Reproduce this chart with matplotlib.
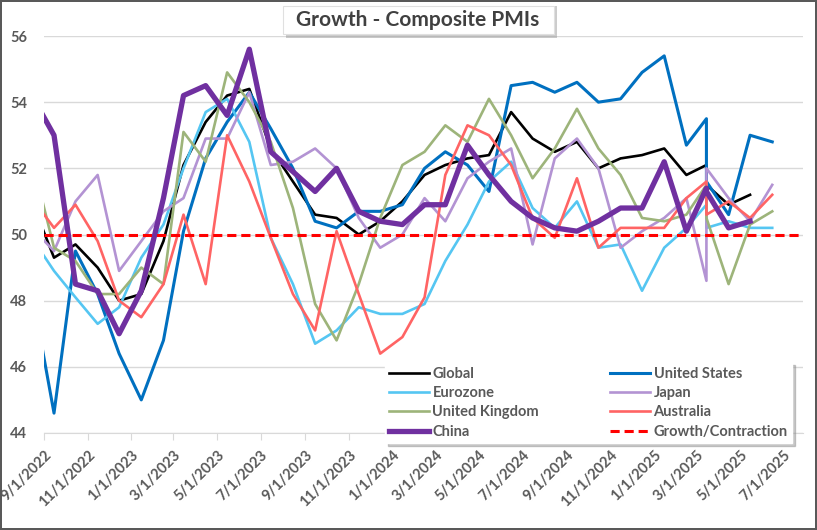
import matplotlib
matplotlib.use('Agg')
import matplotlib.pyplot as plt
from matplotlib.patches import Rectangle
import numpy as np
import pandas as pd

# monthly points (mid-month); the March 2025 row appears twice in the source sheet
dates = pd.to_datetime([
    '2022-08-15', '2022-09-15', '2022-10-15', '2022-11-15', '2022-12-15',
    '2023-01-15', '2023-02-15', '2023-03-15', '2023-04-15', '2023-05-15',
    '2023-06-15', '2023-07-15', '2023-08-15', '2023-09-15', '2023-10-15',
    '2023-11-15', '2023-12-15', '2024-01-15', '2024-02-15', '2024-03-15',
    '2024-04-15', '2024-05-15', '2024-06-15', '2024-07-15', '2024-08-15',
    '2024-09-15', '2024-10-15', '2024-11-15', '2024-12-15', '2025-01-15',
    '2025-02-15', '2025-03-15', '2025-03-15', '2025-04-15', '2025-05-15',
    '2025-06-15',
])

nan = np.nan
global_pmi = [51.0, 49.3, 49.7, 49.0, 48.0, 48.2, 49.8, 52.1, 53.4, 54.2, 54.4, 52.6,
              51.6, 50.6, 50.5, 50.0, 50.4, 51.0, 51.8, 52.1, 52.3, 52.4, 53.7, 52.9,
              52.5, 52.8, 52.0, 52.3, 52.4, 52.6, 51.8, 52.1, 51.5, 50.9, 51.2, nan]
us_pmi = [48.3, 44.6, 49.5, 48.2, 46.4, 45.0, 46.8, 50.1, 52.3, 53.4, 54.3, 53.2,
          52.0, 50.4, 50.2, 50.7, 50.7, 50.9, 52.0, 52.5, 52.1, 51.3, 54.5, 54.6,
          54.3, 54.6, 54.0, 54.1, 54.9, 55.4, 52.7, 53.5, 51.6, 50.6, 53.0, 52.8]
ez_pmi = [49.9, 48.9, 48.1, 47.3, 47.8, 49.3, 50.3, 52.0, 53.7, 54.1, 52.8, 49.9,
          48.5, 46.7, 47.1, 47.8, 47.6, 47.6, 47.9, 49.2, 50.3, 51.6, 52.2, 50.8,
          50.2, 51.0, 49.6, 49.7, 48.3, 49.6, 50.2, 50.9, 50.2, 50.4, 50.2, 50.2]
jp_pmi = [50.2, 49.5, 51.0, 51.8, 48.9, 49.8, 50.7, 51.1, 52.9, 52.9, 54.3, 52.1,
          52.2, 52.6, 52.0, 50.5, 49.6, 50.0, 51.1, 50.4, 51.7, 52.2, 52.6, 49.7,
          52.3, 52.9, 52.0, 49.6, 50.1, 50.5, 51.1, 48.6, 52.0, 51.1, 50.4, 51.5]
uk_pmi = [52.3, 49.6, 49.2, 48.2, 48.2, 49.0, 48.5, 53.1, 52.2, 54.9, 54.0, 52.8,
          50.8, 47.9, 46.8, 48.5, 50.5, 52.1, 52.5, 53.3, 52.8, 54.1, 53.0, 51.7,
          52.6, 53.8, 52.6, 51.8, 50.5, 50.4, 50.6, 51.5, 50.5, 48.5, 50.3, 50.7]
au_pmi = [51.1, 50.2, 50.9, 49.8, 48.0, 47.5, 48.5, 50.6, 48.5, 53.0, 51.6, 49.9,
          48.2, 47.1, 50.1, 48.2, 46.4, 46.9, 48.1, 51.8, 53.3, 53.0, 52.1, 50.5,
          49.9, 51.7, 49.6, 50.2, 50.2, 50.2, 51.1, 51.6, 50.6, 51.0, 50.5, 51.2]
cn_pmi = [54.2, 53.0, 48.5, 48.3, 47.0, 48.3, 51.1, 54.2, 54.5, 53.6, 55.6, 52.5,
          51.9, 51.3, 52.0, 50.7, 50.4, 50.3, 50.9, 50.9, 52.7, 51.8, 51.0, 50.5,
          50.2, 50.1, 50.4, 50.8, 50.8, 52.2, 50.1, 51.4, 51.3, 50.2, 50.4, nan]
threshold = 50

tick_dates = pd.date_range('2022-09-01', '2025-07-01', freq='2MS')
tick_labels = [f'{d.month}/{d.day}/{d.year}' for d in tick_dates]

plt.rcParams['font.family'] = ['Lato', 'DejaVu Sans']
label_color = '#595959'

fig = plt.figure(figsize=(8.17, 5.30), dpi=100)
fig.patch.set_edgecolor('#595959')
fig.patch.set_linewidth(1.5)
ax = fig.add_axes([44 / 817, 1 - 433 / 530, 759 / 817, 397 / 530])

ax.plot(dates, global_pmi, color='black', lw=1.9, label='Global')
ax.plot(dates, us_pmi, color='#0070C0', lw=2.2, label='United States')
ax.plot(dates, ez_pmi, color='#55C6F2', lw=1.9, label='Eurozone')
ax.plot(dates, jp_pmi, color='#B393D3', lw=1.9, label='Japan')
ax.plot(dates, uk_pmi, color='#9DB47A', lw=1.9, label='United Kingdom')
ax.plot(dates, au_pmi, color='#FF6464', lw=1.9, label='Australia')
ax.plot(dates, cn_pmi, color='#7030A0', lw=3.8, label='China')
ax.axhline(threshold, color='#FF0000', lw=2.2, dashes=(3, 1.6), label='Growth/Contraction')

ax.set_xlim(pd.Timestamp('2022-09-01'), pd.Timestamp('2025-07-28'))
ax.set_ylim(44, 56)
ax.set_yticks(range(44, 57, 2))
ax.set_xticks(tick_dates)
ax.set_xticklabels(tick_labels, rotation=45, ha='right', va='top', rotation_mode='anchor')

ax.yaxis.grid(True, color='#D9D9D9', lw=1)
ax.set_axisbelow(True)
for s in ['top', 'right', 'left']:
    ax.spines[s].set_visible(False)
ax.spines['bottom'].set_color('#D9D9D9')
ax.tick_params(axis='x', length=5, color='#D9D9D9', pad=6)
ax.tick_params(axis='y', length=0, pad=12)
for lab in ax.get_xticklabels() + ax.get_yticklabels():
    lab.set_fontweight('bold')
    lab.set_color(label_color)
    lab.set_fontsize(10.5)

# title box with a soft shadow
fig.patches.append(Rectangle((286 / 817, 1 - 38 / 530), 271 / 817, 32 / 530,
                             transform=fig.transFigure, fc='#9A9A9A', ec='none', alpha=0.5))
fig.patches.append(Rectangle((283 / 817, 1 - 34 / 530), 271 / 817, 28 / 530,
                             transform=fig.transFigure, fc='white', ec='#E0E0E0', lw=0.8))
fig.text(418 / 817, 1 - 20 / 530, 'Growth - Composite PMIs', ha='center', va='center',
         fontsize=15, fontweight='bold', color='#404040')

# legend in column order to match the two-column layout
handles, labels = ax.get_legend_handles_labels()
order = [0, 2, 4, 6, 1, 3, 5, 7]
leg = ax.legend([handles[i] for i in order], [labels[i] for i in order],
                ncol=2, loc='lower left', mode='expand',
                bbox_to_anchor=(385 / 817, 1 - 443 / 530, 407 / 817, 74 / 530),
                bbox_transform=fig.transFigure,
                fancybox=False, shadow={'color': '#8A8A8A', 'alpha': 0.45},
                framealpha=1, edgecolor='white',
                prop={'weight': 'bold', 'size': 10.5},
                handlelength=2.7, handletextpad=0.25, labelspacing=0.36,
                borderpad=0.3, borderaxespad=0, columnspacing=1.0)
for t in leg.get_texts():
    t.set_color(label_color)

fig.savefig('out.png', dpi=100)
